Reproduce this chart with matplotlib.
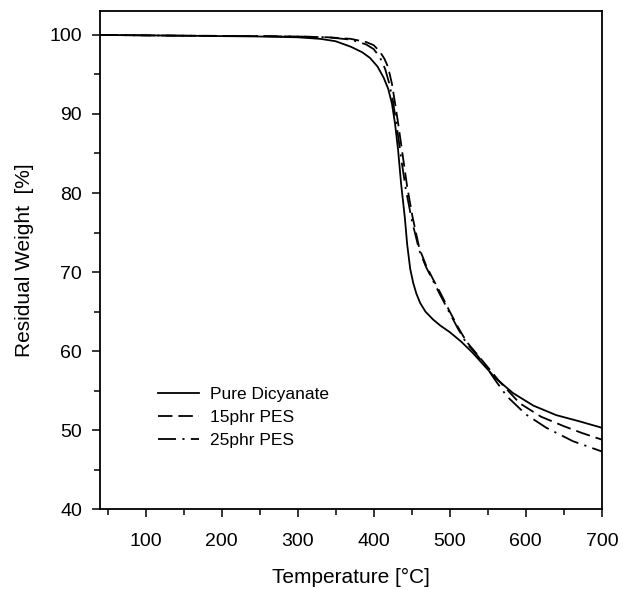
# TGA curves of dicyanate / PES blends
import numpy as np
import matplotlib.pyplot as plt
from matplotlib.ticker import MultipleLocator

plt.rcParams['font.family'] = ['Liberation Sans', 'DejaVu Sans']

# pure dicyanate (solid)
temp_pure = [40, 150, 250, 300, 330, 350, 370, 385, 395, 405, 413, 419, 424, 428, 432, 436,
             441, 444, 448, 452, 456, 461, 468, 478, 488, 500, 515, 530, 545, 560, 583, 610, 640, 671, 700]
wt_pure = [100, 99.9, 99.8, 99.7, 99.5, 99.2, 98.5, 97.8, 97.1, 96.0, 94.6, 93.2, 91.3, 88.8, 85.5, 81.2,
           76.8, 73.5, 70.4, 68.6, 67.3, 66.1, 65.0, 64.0, 63.2, 62.4, 61.2, 59.8, 58.2, 56.6, 54.7, 53.1, 51.9, 51.1, 50.3]

# 15 phr PES (dashed)
temp_15 = [40, 150, 250, 300, 340, 370, 390, 400, 408, 414, 419, 424, 428, 432, 436, 440,
           444, 451, 460, 469, 478, 488, 500, 511, 522, 535, 548, 565, 592, 620, 650, 675, 700]
wt_15 = [100, 99.9, 99.85, 99.8, 99.7, 99.5, 99.1, 98.7, 97.9, 97.0, 95.9, 93.8, 91.4, 88.9, 86.2, 83.5,
         80.8, 77.0, 73.0, 70.8, 69.1, 67.3, 65.0, 63.0, 61.2, 59.7, 58.2, 56.2, 53.4, 51.7, 50.5, 49.6, 48.8]

# 25 phr PES (dash-dot)
temp_25 = [40, 150, 250, 300, 340, 370, 390, 400, 408, 415, 420, 425, 429, 433, 437, 442,
           450, 460, 469, 478, 488, 500, 511, 522, 535, 548, 560, 575, 600, 627, 662, 700]
wt_25 = [100, 99.9, 99.85, 99.8, 99.7, 99.4, 98.8, 98.2, 97.2, 95.7, 94.0, 91.8, 89.3, 86.6, 83.8, 80.6,
         76.6, 72.7, 70.6, 68.9, 67.0, 64.8, 62.8, 61.0, 59.6, 58.0, 56.3, 54.3, 52.0, 50.3, 48.6, 47.3]

labels = ['Pure Dicyanate', '15phr PES', '25phr PES']

fig = plt.figure(figsize=(6.23, 5.90), dpi=100)
ax = fig.add_axes([0.1605, 0.137, 0.8055, 0.844])

ax.plot(temp_pure, wt_pure, color='black', lw=1.3, ls='-', label=labels[0])
ax.plot(temp_15, wt_15, color='black', lw=1.3, ls=(0, (8, 3.3)), label=labels[1])
ax.plot(temp_25, wt_25, color='black', lw=1.3, ls=(0, (10, 3.5, 1.2, 3.5)), label=labels[2])

ax.set_xlim(40, 700)
ax.set_ylim(40, 103)
ax.xaxis.set_major_locator(MultipleLocator(100))
ax.xaxis.set_minor_locator(MultipleLocator(50))
ax.yaxis.set_major_locator(MultipleLocator(10))
ax.yaxis.set_minor_locator(MultipleLocator(5))
ax.tick_params(which='both', direction='out', top=False, right=False, labelsize=14, width=1.1)
ax.tick_params(which='major', length=6)
ax.tick_params(which='minor', length=4)
ax.tick_params(axis='x', which='major', pad=11)
ax.tick_params(axis='y', which='major', pad=7)
for s in ax.spines.values():
    s.set_linewidth(1.3)

ax.set_xlabel('Temperature [\u00b0C]', fontsize=15, labelpad=13)
ax.set_ylabel('Residual Weight  [%]', fontsize=15, labelpad=11)

ax.legend(loc='center left', bbox_to_anchor=(0.115, 0.185), frameon=False, fontsize=12.5,
          handlelength=2.4, handletextpad=0.6, borderpad=0, borderaxespad=0, labelspacing=0.45)

fig.savefig('out.png', dpi=100)
